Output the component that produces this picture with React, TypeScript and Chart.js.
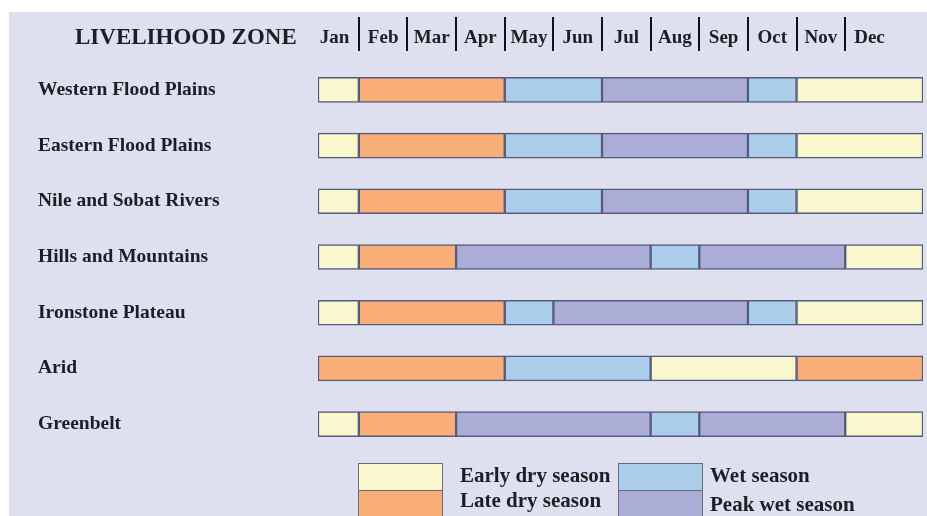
import React, { useEffect, useRef } from 'react';
import { Chart, registerables } from 'chart.js';

Chart.register(...registerables);

// ---------- data ----------
const ZONES = [
  'Western Flood Plains',
  'Eastern Flood Plains',
  'Nile and Sobat Rivers',
  'Hills and Mountains',
  'Ironstone Plateau',
  'Arid',
  'Greenbelt',
];

const MONTHS = ['Jan', 'Feb', 'Mar', 'Apr', 'May', 'Jun', 'Jul', 'Aug', 'Sep', 'Oct', 'Nov', 'Dec'];

// month boundaries of each season segment (0 = start of Jan, 12 = end of Dec)
const westernBounds = [0, 1, 4, 6, 9, 10, 12];
const westernSeasons = ['early', 'late', 'wet', 'peak', 'wet', 'early'];
const easternBounds = [0, 1, 4, 6, 9, 10, 12];
const easternSeasons = ['early', 'late', 'wet', 'peak', 'wet', 'early'];
const nileBounds = [0, 1, 4, 6, 9, 10, 12];
const nileSeasons = ['early', 'late', 'wet', 'peak', 'wet', 'early'];
const hillsBounds = [0, 1, 3, 7, 8, 11, 12];
const hillsSeasons = ['early', 'late', 'peak', 'wet', 'peak', 'early'];
const ironstoneBounds = [0, 1, 4, 5, 9, 10, 12];
const ironstoneSeasons = ['early', 'late', 'wet', 'peak', 'wet', 'early'];
const aridBounds = [0, 4, 7, 10, 12];
const aridSeasons = ['late', 'wet', 'early', 'late'];
const greenbeltBounds = [0, 1, 3, 7, 8, 11, 12];
const greenbeltSeasons = ['early', 'late', 'peak', 'wet', 'peak', 'early'];

const ZONE_BOUNDS = [westernBounds, easternBounds, nileBounds, hillsBounds, ironstoneBounds, aridBounds, greenbeltBounds];
const ZONE_SEASONS = [westernSeasons, easternSeasons, nileSeasons, hillsSeasons, ironstoneSeasons, aridSeasons, greenbeltSeasons];

const SEASON_LABELS: Record<string, string> = {
  early: 'Early dry season',
  late: 'Late dry season',
  wet: 'Wet season',
  peak: 'Peak wet season',
};
const SEASON_COLORS: Record<string, string> = {
  early: '#faf6cd',
  late: '#f9ae78',
  wet: '#abcde9',
  peak: '#abadd6',
};

// x range of the month axis (the bars overshoot the header's Jan / Dec columns)
const X_MIN = 0.16;
const X_MAX = 12.6;

const FONT = "'Liberation Serif', 'Times New Roman', serif";
const TEXT = '#1d1d24';
const BG = '#dfe0ef';

export default function App() {
  const ref = useRef<HTMLCanvasElement | null>(null);

  useEffect(() => {
    if (!ref.current) return;
    const clampV = (v: number) => (v <= 0 ? X_MIN : v >= 12 ? X_MAX : v);
    const maxSeg = Math.max(...ZONE_SEASONS.map((s) => s.length));
    const datasets: any[] = [];
    for (let j = 0; j < maxSeg; j++) {
      datasets.push({
        label: 'segment ' + (j + 1),
        data: ZONES.map((_, i) =>
          j < ZONE_SEASONS[i].length ? [clampV(ZONE_BOUNDS[i][j]), clampV(ZONE_BOUNDS[i][j + 1])] : null
        ),
        backgroundColor: ZONES.map((_, i) =>
          j < ZONE_SEASONS[i].length ? SEASON_COLORS[ZONE_SEASONS[i][j]] : 'transparent'
        ),
        borderColor: '#555b7c',
        borderWidth: 1.5,
        borderSkipped: false,
        grouped: false,
        barThickness: 25,
      });
    }

    const headerPlugin = {
      id: 'headerAndLegend',
      afterDraw(chart: any) {
        const ctx = chart.ctx;
        const x = chart.scales.x;
        ctx.save();
        ctx.fillStyle = TEXT;
        ctx.textBaseline = 'middle';
        // header
        ctx.font = `bold 23px ${FONT}`;
        ctx.textAlign = 'left';
        ctx.fillText('LIVELIHOOD ZONE', 66, 26);
        ctx.font = `bold 19px ${FONT}`;
        ctx.textAlign = 'center';
        MONTHS.forEach((m, i) => {
          ctx.fillText(m, x.getPixelForValue(i + 0.5), 26);
        });
        ctx.strokeStyle = '#111';
        ctx.lineWidth = 2;
        for (let i = 1; i < MONTHS.length; i++) {
          const px = Math.round(x.getPixelForValue(i));
          ctx.beginPath();
          ctx.moveTo(px, 5);
          ctx.lineTo(px, 39);
          ctx.stroke();
        }
        // legend (2 columns, stacked boxes)
        const cols = [
          { keys: ['early', 'late'], boxX: 349, textX: 451 },
          { keys: ['wet', 'peak'], boxX: 609, textX: 701 },
        ];
        const boxW = 84;
        const rowsY = [451, 478];
        const boxH = 27;
        ctx.font = `bold 21px ${FONT}`;
        ctx.textAlign = 'left';
        cols.forEach((c, ci) => {
          c.keys.forEach((k, ri) => {
            ctx.fillStyle = SEASON_COLORS[k];
            ctx.fillRect(c.boxX, rowsY[ri], boxW, boxH);
            ctx.strokeStyle = '#6a6b80';
            ctx.lineWidth = 1;
            ctx.strokeRect(c.boxX + 0.5, rowsY[ri] + 0.5, boxW, boxH);
            ctx.fillStyle = TEXT;
            const ty = ri === 0 ? 465 : ci === 0 ? 490 : 494;
            ctx.fillText(SEASON_LABELS[k], c.textX, ty);
          });
        });
        ctx.restore();
      },
    };

    const chart = new Chart(ref.current, {
      type: 'bar',
      data: { labels: ZONES, datasets },
      options: {
        indexAxis: 'y',
        animation: false,
        responsive: true,
        maintainAspectRatio: false,
        layout: { padding: { left: 29, right: 4, top: 50, bottom: 64 } },
        plugins: { legend: { display: false }, tooltip: { enabled: false } },
        scales: {
          x: { type: 'linear', min: X_MIN, max: X_MAX, display: false },
          y: {
            type: 'category',
            grid: { display: false },
            border: { display: false },
            ticks: {
              color: TEXT,
              font: { family: FONT, size: 19.5, weight: 'bold' },
              crossAlign: 'far',
              padding: 0,
            },
            afterFit: (axis: any) => {
              axis.width = 280;
            },
          },
        },
      } as any,
      plugins: [headerPlugin],
    });
    return () => chart.destroy();
  }, []);

  return (
    <div style={{ position: 'fixed', left: 9, top: 12, width: 918, height: 504, background: BG }}>
      <canvas ref={ref} />
    </div>
  );
}
